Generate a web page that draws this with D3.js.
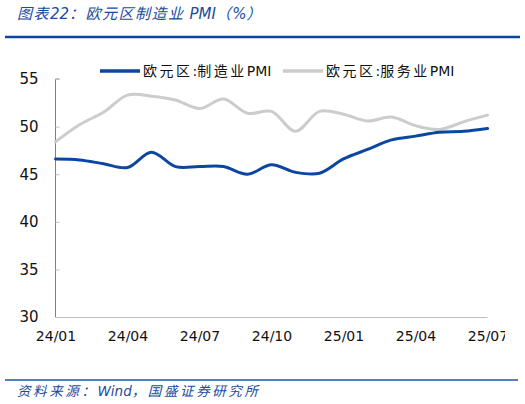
<!DOCTYPE html>
<html><head><meta charset="utf-8">
<script src="https://cdn.jsdelivr.net/npm/d3@7"></script>
<style>body{margin:0;background:#fff}svg{display:block}</style>
</head><body>
<script>
const months = ["24/01","24/02","24/03","24/04","24/05","24/06","24/07","24/08","24/09","24/10","24/11","24/12","25/01","25/02","25/03","25/04","25/05","25/06","25/07"];
const mfg = [46.6,46.5,46.1,45.7,47.3,45.8,45.8,45.8,45.0,46.0,45.2,45.1,46.6,47.6,48.6,49.0,49.4,49.5,49.8];
const svc = [48.4,50.2,51.5,53.3,53.2,52.8,51.9,52.9,51.4,51.6,49.5,51.6,51.3,50.6,51.0,50.1,49.7,50.5,51.2];
const xTicks = ["24/01","24/04","24/07","24/10","25/01","25/04","25/07"];
const yTicks = [30,35,40,45,50,55];
const seriesNames = ["欧元区:制造业PMI","欧元区:服务业PMI"];
const colors = ["#0b47a0","#cccccc"];

const W=525,H=404;
const svg=d3.select("body").append("svg").attr("width",W).attr("height",H);
const font="'DejaVu Sans','Liberation Sans',sans-serif";
const cjk="'DejaVu Sans','Noto Sans CJK SC',sans-serif";

// text with letter-spacing only on CJK runs
function mixed(t, str, ls){
  const runs = str.match(/[\u3000-\u9fff\uff00-\uffef]+|[^\u3000-\u9fff\uff00-\uffef]+/g);
  runs.forEach(r=>{
    const isC=/[\u3000-\u9fff\uff00-\uffef]/.test(r);
    t.append("tspan").attr("letter-spacing",isC?ls:0).text(r);
  });
  return t;
}

// title
mixed(svg.append("text").attr("x",17).attr("y",19).attr("font-family",cjk).attr("font-size",15)
  .attr("font-style","italic").attr("fill","#1a4b9c"),"图表22：欧元区制造业 PMI（%）",1.5);
svg.append("line").attr("x1",5).attr("x2",520).attr("y1",37).attr("y2",37).attr("stroke","#0b47a0").attr("stroke-width",2.5);

const x=d3.scalePoint().domain(months).range([55.5,487.5]);
const y=d3.scaleLinear().domain([30,55]).range([317,79]);

svg.append("defs").append("clipPath").attr("id","c").append("rect").attr("x",0).attr("y",0).attr("width",505).attr("height",H);

const gx=svg.append("g").attr("transform","translate(0,317)").attr("clip-path","url(#c)")
  .call(d3.axisBottom(x).tickValues(xTicks).tickSize(-4).tickPadding(14));
gx.select(".domain").attr("stroke","#808080").attr("d","M55.5,0H487.5V-5");
gx.selectAll(".tick line").attr("stroke","#c0c0c0");
gx.selectAll(".tick text").attr("font-family",font).attr("font-size",14).attr("fill","#111");

const gy=svg.append("g").attr("transform","translate(55.5,0)")
  .call(d3.axisLeft(y).tickValues(yTicks).tickSize(-4).tickPadding(17));
gy.select(".domain").attr("stroke","#808080").attr("d","M4,79H0V317");
gy.selectAll(".tick line").attr("stroke","#c0c0c0");
gy.selectAll(".tick text").attr("font-family",font).attr("font-size",15).attr("fill","#111");

const line=d3.line().x((d,i)=>x(months[i])).y(d=>y(d)).curve(d3.curveCatmullRom.alpha(0.5));
[svc,mfg].forEach((s,k)=>{
  svg.append("path").attr("d",line(s)).attr("fill","none")
    .attr("stroke",k===0?colors[1]:colors[0]).attr("stroke-width",3).attr("stroke-linecap","round");
});

// legend
const leg=[{x:100,c:colors[0],t:seriesNames[0]},{x:283,c:colors[1],t:seriesNames[1]}];
leg.forEach(l=>{
  svg.append("line").attr("x1",l.x).attr("x2",l.x+40).attr("y1",71).attr("y2",71).attr("stroke",l.c).attr("stroke-width",3.5);
  mixed(svg.append("text").attr("x",l.x+43).attr("y",76).attr("font-family",cjk).attr("font-size",14)
    .attr("fill","#111"),l.t,2.5);
});

// source
svg.append("line").attr("x1",5).attr("x2",518).attr("y1",380).attr("y2",380).attr("stroke","#1a56a8").attr("stroke-width",1.5);
mixed(svg.append("text").attr("x",17).attr("y",396).attr("font-family",cjk).attr("font-size",13.5)
  .attr("font-style","italic").attr("fill","#1a4b9c"),"资料来源：Wind，国盛证券研究所",2.6);
</script>
</body></html>
